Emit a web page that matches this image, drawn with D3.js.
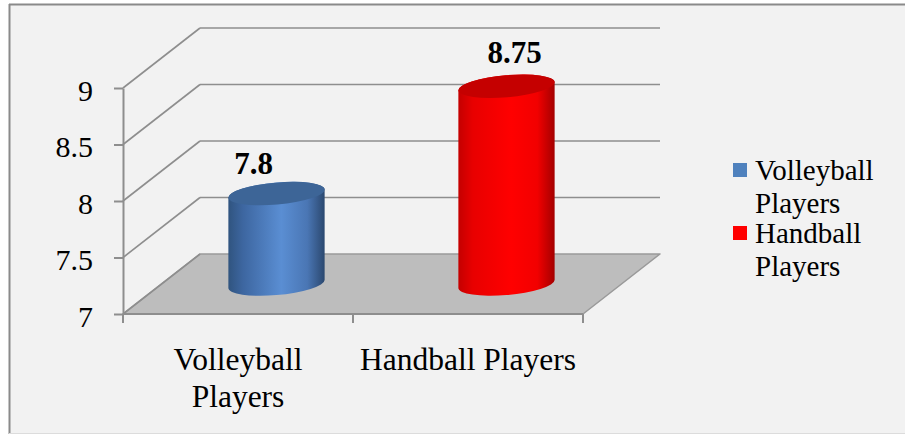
<!DOCTYPE html>
<html>
<head>
<meta charset="utf-8">
<script src="https://cdn.jsdelivr.net/npm/d3@7"></script>
<style>
  html, body { margin: 0; padding: 0; background: #ffffff; }
  svg { display: block; }
</style>
</head>
<body>
<svg id="chart" width="905" height="434"></svg>
<script>
// ---- data ----
const categories = ["Volleyball Players", "Handball Players"];
const categoryLines = [["Volleyball", "Players"], ["Handball Players"]];
const values = [7.8, 8.75];
const seriesNames = ["Volleyball Players", "Handball Players"];
const legendLines = [["Volleyball", "Players"], ["Handball", "Players"]];
const yTicks = [7, 7.5, 8, 8.5, 9];
const yTickLabels = ["7", "7.5", "8", "8.5", "9"];
const valueLabels = ["7.8", "8.75"];

// ---- styles ----
const colors = [
  { side: ["#30547f", "#3d66a0", "#5a8ed3", "#4a76b4", "#2b486f"], top: "#3d6597", legend: "#4f81bd" },
  { side: ["#c40000", "#e80000", "#ff0000", "#f20000", "#a40000"], top: "#c50000", legend: "#ff0000" }
];
const gridColor = "#8e8e8e";
const floorColor = "#bdbdbd";
const FONT = "'Liberation Serif'";

const W = 905, H = 434;
const svg = d3.select("#chart");
const defs = svg.append("defs");

// chart area background and border
svg.append("rect").attr("x", 9).attr("y", 4).attr("width", W).attr("height", 429)
  .attr("fill", "#f2f2f2");
svg.append("line").attr("x1", 9).attr("x2", W).attr("y1", 4.5).attr("y2", 4.5)
  .attr("stroke", "#8a8a8a").attr("stroke-width", 2);
svg.append("line").attr("x1", 9.5).attr("x2", 9.5).attr("y1", 4).attr("y2", 434)
  .attr("stroke", "#8a8a8a").attr("stroke-width", 2);
svg.append("line").attr("x1", 9).attr("x2", W).attr("y1", 433.5).attr("y2", 433.5)
  .attr("stroke", "#dcdcdc").attr("stroke-width", 1);

// ---- scales (front plane) ----
const x = d3.scaleBand().domain(categories).range([123, 583]).padding(0);
const y = d3.scaleLinear().domain([7, 9]).range([314, 88]);
const depth = { dx: 77, dy: -60 };   // offset from front plane to back wall
const barDepth = 0.5;               // bars sit mid-depth

// ---- floor ----
const y0 = y(7);
const floorPts = [
  [x.range()[0], y0], [x.range()[1], y0],
  [x.range()[1] + depth.dx, y0 + depth.dy], [x.range()[0] + depth.dx, y0 + depth.dy]
];
svg.append("polygon")
  .attr("points", floorPts.map(p => p.join(",")).join(" "))
  .attr("fill", floorColor).attr("stroke", "#9a9a9a").attr("stroke-width", 1.5)
  .attr("stroke-linejoin", "round");

// ---- back wall grid + side wall diagonals ----
const grid = svg.append("g");
yTicks.forEach(t => {
  const fy = y(t);
  const by = fy + depth.dy;
  if (t !== 7) {
    grid.append("line")
      .attr("x1", x.range()[0] + depth.dx).attr("x2", x.range()[1] + depth.dx)
      .attr("y1", by).attr("y2", by)
      .attr("stroke", gridColor).attr("stroke-width", 1.6);
  }
  grid.append("line")
    .attr("x1", x.range()[0]).attr("y1", fy)
    .attr("x2", x.range()[0] + depth.dx).attr("y2", by)
    .attr("stroke", gridColor).attr("stroke-width", 1.6);
});

// ---- y axis ----
const yAxis = svg.append("g")
  .attr("transform", `translate(${x.range()[0]},0)`)
  .call(d3.axisLeft(y).tickValues(yTicks).tickFormat((d, i) => yTickLabels[i])
    .tickSize(9).tickPadding(21).tickSizeOuter(0));
yAxis.attr("font-family", FONT).attr("font-size", 30);
yAxis.select(".domain").attr("stroke", gridColor).attr("stroke-width", 2);
yAxis.selectAll(".tick line").attr("stroke", gridColor).attr("stroke-width", 2);
yAxis.selectAll(".tick text").attr("dy", "0.4em").attr("fill", "#000");

// ---- x axis ----
const xAxisG = svg.append("g").attr("transform", `translate(0,${y0})`);
xAxisG.append("line").attr("x1", x.range()[0]).attr("x2", x.range()[1])
  .attr("y1", 0).attr("y2", 0).attr("stroke", gridColor).attr("stroke-width", 2);
const bounds = [x.range()[0]].concat(categories.map(c => x(c) + x.bandwidth()));
xAxisG.selectAll("line.tk").data(bounds).join("line").attr("class", "tk")
  .attr("x1", d => d).attr("x2", d => d).attr("y1", 0).attr("y2", 9)
  .attr("stroke", gridColor).attr("stroke-width", 2);

xAxisG.selectAll("text.cat").data(categories).join("text")
  .attr("class", "cat")
  .attr("text-anchor", "middle")
  .attr("font-size", 31.5)
  .attr("font-family", FONT)
  .attr("fill", "#000")
  .each(function(d, i) {
    const el = d3.select(this);
    categoryLines[i].forEach((w, k) => {
      el.append("tspan").attr("x", x(d) + x.bandwidth() / 2)
        .attr("y", 56 + k * 37).text(w);
    });
  });

// ---- cylinders ----
const rx = x.bandwidth() * 0.21;
const ry = 11;
const rot = -5; // degrees
const phi = rot * Math.PI / 180;
function extremes(cx, cy) {
  const t = Math.atan2(-ry * Math.sin(phi), rx * Math.cos(phi));
  const px = rx * Math.cos(t) * Math.cos(phi) - ry * Math.sin(t) * Math.sin(phi);
  const py = rx * Math.cos(t) * Math.sin(phi) + ry * Math.sin(t) * Math.cos(phi);
  const a = [cx + px, cy + py], b = [cx - px, cy - py];
  return a[0] < b[0] ? [a, b] : [b, a];
}

values.forEach((v, i) => {
  const c = categories[i];
  const cx = x(c) + x.bandwidth() / 2 + depth.dx * barDepth;
  const topY = y(v) + depth.dy * barDepth;
  const botY = y(7) + depth.dy * barDepth;

  const grad = defs.append("linearGradient").attr("id", "g" + i)
    .attr("x1", "0%").attr("x2", "100%").attr("y1", "0%").attr("y2", "0%");
  [0, 0.15, 0.55, 0.82, 1].forEach((o, k) => {
    grad.append("stop").attr("offset", o).attr("stop-color", colors[i].side[k]);
  });

  const [tl, tr] = extremes(cx, topY);
  const [bl, br] = extremes(cx, botY);
  const body = `M${tl[0]},${tl[1]} L${bl[0]},${bl[1]} A${rx},${ry} ${rot} 0 0 ${br[0]},${br[1]} ` +
    `L${tr[0]},${tr[1]} A${rx},${ry} ${rot} 0 0 ${tl[0]},${tl[1]} Z`;
  svg.append("path").attr("d", body).attr("fill", `url(#g${i})`);

  svg.append("ellipse").attr("cx", cx).attr("cy", topY).attr("rx", rx).attr("ry", ry)
    .attr("transform", `rotate(${rot},${cx},${topY})`)
    .attr("fill", colors[i].top);
});

// ---- value labels ----
const labelDx = [-23, 8];
svg.selectAll("text.val").data(values).join("text").attr("class", "val")
  .attr("x", (d, i) => x(categories[i]) + x.bandwidth() / 2 + depth.dx * barDepth + labelDx[i])
  .attr("y", (d, i) => y(d) + depth.dy * barDepth - 20 + (i === 1 ? -3 : 0))
  .attr("text-anchor", "middle")
  .attr("font-size", 31)
  .attr("font-family", FONT)
  .attr("font-weight", "bold")
  .attr("fill", "#000")
  .text((d, i) => valueLabels[i]);

// ---- legend ----
const legend = svg.append("g").attr("transform", "translate(733,163)");
seriesNames.forEach((s, i) => {
  const g = legend.append("g").attr("transform", `translate(0,${i * 63})`);
  g.append("rect").attr("width", 14).attr("height", 14).attr("fill", colors[i].legend);
  const t = g.append("text").attr("font-size", 29).attr("font-family", FONT).attr("fill", "#000");
  legendLines[i].forEach((w, k) => {
    t.append("tspan").attr("x", 22).attr("y", 17 + k * 33).text(w);
  });
});
</script>
</body>
</html>
